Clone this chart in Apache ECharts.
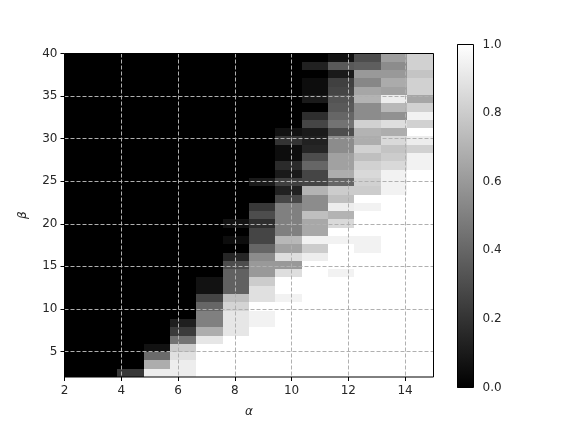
<!DOCTYPE html>
<html>
<head>
<meta charset="utf-8">
<style>
  html, body { margin: 0; padding: 0; background: #fff; }
  #chart { width: 574px; height: 429px; }
</style>
<script src="https://cdn.jsdelivr.net/npm/echarts@6/dist/echarts.min.js"></script>
</head>
<body>
<div id="chart"></div>
<script>
const alphaRange = [2, 15];
const betaRange = [2, 40];
const alphaTicks = [2, 4, 6, 8, 10, 12, 14];
const betaTicks = [5, 10, 15, 20, 25, 30, 35, 40];
const colorbarTicks = [0, 0.2, 0.4, 0.6, 0.8, 1];

// one row per beta, top (40) to bottom (2); one column per alpha, 2 to 15
const cellValues = [
  [0, 0, 0, 0, 0, 0, 0, 0, 0, 0, .07, .3, .62, .82],
  [0, 0, 0, 0, 0, 0, 0, 0, 0, .13, .35, .37, .55, .82],
  [0, 0, 0, 0, 0, 0, 0, 0, 0, 0, .1, .6, .6, .77],
  [0, 0, 0, 0, 0, 0, 0, 0, 0, .05, .25, .53, .67, .82],
  [0, 0, 0, 0, 0, 0, 0, 0, 0, .05, .27, .65, .63, .82],
  [0, 0, 0, 0, 0, 0, 0, 0, 0, .1, .33, .7, .93, .65],
  [0, 0, 0, 0, 0, 0, 0, 0, 0, 0, .35, .55, .72, .82],
  [0, 0, 0, 0, 0, 0, 0, 0, 0, .18, .4, .55, .57, .95],
  [0, 0, 0, 0, 0, 0, 0, 0, 0, .27, .45, .82, .87, .82],
  [0, 0, 0, 0, 0, 0, 0, 0, .07, .1, .3, .7, .68, 1],
  [0, 0, 0, 0, 0, 0, 0, 0, .2, .13, .55, .68, .85, .93],
  [0, 0, 0, 0, 0, 0, 0, 0, .05, .15, .55, .82, .77, .82],
  [0, 0, 0, 0, 0, 0, 0, 0, .05, .3, .63, .75, .8, .95],
  [0, 0, 0, 0, 0, 0, 0, 0, .17, .4, .63, .82, .85, .95],
  [0, 0, 0, 0, 0, 0, 0, 0, .1, .27, .68, .85, .95, 1],
  [0, 0, 0, 0, 0, 0, 0, .1, .25, .27, .4, .82, .95, 1],
  [0, 0, 0, 0, 0, 0, 0, 0, .13, .7, .8, .8, .95, 1],
  [0, 0, 0, 0, 0, 0, 0, 0, .28, .55, .75, 1, 1, 1],
  [0, 0, 0, 0, 0, 0, 0, .22, .5, .55, .93, .95, 1, 1],
  [0, 0, 0, 0, 0, 0, 0, .3, .5, .75, .7, 1, 1, 1],
  [0, 0, 0, 0, 0, 0, .07, .18, .5, .66, .85, 1, 1, 1],
  [0, 0, 0, 0, 0, 0, 0, .27, .5, .66, 1, 1, 1, 1],
  [0, 0, 0, 0, 0, 0, .05, .27, .72, .95, .95, .95, 1, 1],
  [0, 0, 0, 0, 0, 0, 0, .4, .63, .8, 1, .95, 1, 1],
  [0, 0, 0, 0, 0, 0, .15, .55, .87, .93, 1, 1, 1, 1],
  [0, 0, 0, 0, 0, 0, .3, .6, .6, 1, 1, 1, 1, 1],
  [0, 0, 0, 0, 0, 0, .38, .6, .87, 1, .95, 1, 1, 1],
  [0, 0, 0, 0, 0, .07, .38, .8, 1, 1, 1, 1, 1, 1],
  [0, 0, 0, 0, 0, .07, .38, .88, 1, 1, 1, 1, 1, 1],
  [0, 0, 0, 0, 0, .27, .75, .88, .95, 1, 1, 1, 1, 1],
  [0, 0, 0, 0, 0, .4, .83, 1, 1, 1, 1, 1, 1, 1],
  [0, 0, 0, 0, 0, .5, .9, .95, 1, 1, 1, 1, 1, 1],
  [0, 0, 0, 0, .12, .5, .9, .95, 1, 1, 1, 1, 1, 1],
  [0, 0, 0, 0, .23, .68, .9, 1, 1, 1, 1, 1, 1, 1],
  [0, 0, 0, 0, .45, .9, 1, 1, 1, 1, 1, 1, 1, 1],
  [0, 0, 0, .07, .8, 1, 1, 1, 1, 1, 1, 1, 1, 1],
  [0, 0, 0, .42, .88, 1, 1, 1, 1, 1, 1, 1, 1, 1],
  [0, 0, 0, .68, .93, 1, 1, 1, 1, 1, 1, 1, 1, 1],
  [0, 0, .22, .93, .93, 1, 1, 1, 1, 1, 1, 1, 1, 1]
];

const textColor = '#262626';
const font = 'DejaVu Sans';

const rowCount = cellValues.length;
const colCount = cellValues[0].length;
const cellWidth = (alphaRange[1] - alphaRange[0]) / colCount;
const cellHeight = (betaRange[1] - betaRange[0]) / rowCount;

const cells = [];
cellValues.forEach((row, r) => {
  row.forEach((v, c) => cells.push([c, r, v]));
});

const grayColor = (v) => {
  const g = Math.round(v * 255);
  return `rgb(${g},${g},${g})`;
};

const renderCell = (params, api) => {
  const c = api.value(0);
  const r = api.value(1);
  const left = alphaRange[0] + c * cellWidth;
  const top = betaRange[1] - r * cellHeight;
  const p0 = api.coord([left, top]);
  const p1 = api.coord([left + cellWidth, top - cellHeight]);
  // round to whole pixels so neighbouring cells leave no seam
  const x = Math.round(p0[0]);
  const y = Math.round(p0[1]);
  return {
    type: 'rect',
    shape: { x, y, width: Math.round(p1[0]) - x, height: Math.round(p1[1]) - y },
    style: { fill: grayColor(api.value(2)) }
  };
};

const renderFrame = (params, api) => {
  const p0 = api.coord([alphaRange[0], betaRange[1]]);
  const p1 = api.coord([alphaRange[1], betaRange[0]]);
  return {
    type: 'rect',
    shape: { x: p0[0], y: p0[1], width: p1[0] - p0[0], height: p1[1] - p0[1] },
    style: { fill: 'none', stroke: '#000', lineWidth: 1 }
  };
};

const renderColorbar = (params, api) => {
  const p0 = api.coord([0, 1]);
  const p1 = api.coord([1, 0]);
  return {
    type: 'rect',
    shape: { x: p0[0], y: p0[1], width: p1[0] - p0[0], height: p1[1] - p0[1] },
    style: {
      fill: new echarts.graphic.LinearGradient(0, 0, 0, 1, [
        { offset: 0, color: '#fff' },
        { offset: 1, color: '#000' }
      ]),
      stroke: '#000',
      lineWidth: 1
    }
  };
};

const chart = echarts.init(document.getElementById('chart'), null, { renderer: 'canvas' });

chart.setOption({
  animation: false,
  backgroundColor: '#fff',
  textStyle: { fontFamily: font },
  grid: [
    { left: 64.5, top: 53.5, width: 369, height: 323.5 },
    { left: 457.5, top: 44.5, width: 16, height: 343 }
  ],
  xAxis: [
    {
      gridIndex: 0,
      type: 'value',
      min: alphaRange[0],
      max: alphaRange[1],
      z: 5,
      name: 'α',
      nameLocation: 'middle',
      nameGap: 29,
      nameTextStyle: { fontSize: 12, fontStyle: 'italic', color: textColor, fontFamily: font },
      axisLine: { show: false },
      axisTick: { length: 4, lineStyle: { color: '#000', width: 1 }, customValues: alphaTicks },
      axisLabel: { fontSize: 12, color: textColor, margin: 8, customValues: alphaTicks, fontFamily: font },
      splitLine: { show: true, lineStyle: { color: '#b0b0b0', type: [4, 2], width: 1 } }
    },
    {
      gridIndex: 1,
      type: 'value',
      min: 0,
      max: 1,
      show: false
    }
  ],
  yAxis: [
    {
      gridIndex: 0,
      type: 'value',
      min: betaRange[0],
      max: betaRange[1],
      z: 5,
      name: 'β',
      nameLocation: 'middle',
      nameGap: 36,
      nameRotate: 90,
      nameTextStyle: { fontSize: 12, fontStyle: 'italic', color: textColor, fontFamily: font },
      axisLine: { show: false },
      axisTick: { length: 4, lineStyle: { color: '#000', width: 1 }, customValues: betaTicks },
      axisLabel: { fontSize: 12, color: textColor, margin: 7, customValues: betaTicks, fontFamily: font },
      splitLine: { show: true, lineStyle: { color: '#b0b0b0', type: [4, 2], width: 1 } }
    },
    {
      gridIndex: 1,
      type: 'value',
      position: 'right',
      min: 0,
      max: 1,
      interval: 0.2,
      axisLine: { show: false },
      axisTick: { show: true, length: 4, lineStyle: { color: '#000', width: 1 }, customValues: colorbarTicks },
      axisLabel: {
        fontSize: 12,
        color: textColor,
        margin: 9,
        fontFamily: font,
        customValues: colorbarTicks,
        formatter: (v) => v.toFixed(1)
      },
      splitLine: { show: false }
    }
  ],
  series: [
    {
      type: 'custom',
      xAxisIndex: 0,
      yAxisIndex: 0,
      z: 2,
      silent: true,
      renderItem: renderCell,
      encode: { x: -1, y: -1 },
      data: cells
    },
    {
      type: 'custom',
      xAxisIndex: 0,
      yAxisIndex: 0,
      z: 8,
      silent: true,
      renderItem: renderFrame,
      encode: { x: -1, y: -1 },
      data: [[0]]
    },
    {
      type: 'custom',
      xAxisIndex: 1,
      yAxisIndex: 1,
      z: 2,
      silent: true,
      renderItem: renderColorbar,
      encode: { x: -1, y: -1 },
      data: [[0]]
    }
  ]
});
</script>
</body>
</html>
